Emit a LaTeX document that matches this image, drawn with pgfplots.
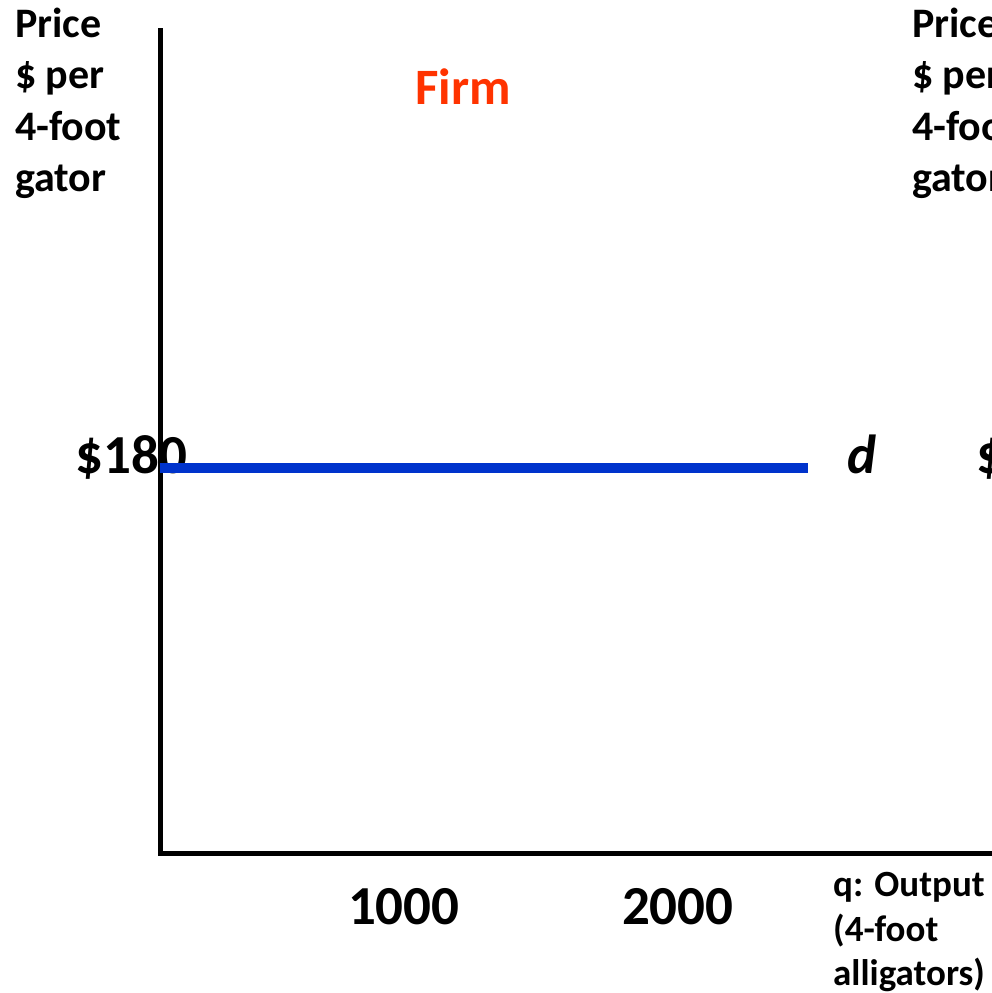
\documentclass[border=0pt]{standalone}
\usepackage{pgfplots}
\pgfplotsset{compat=1.18}
\usepackage{fontspec}
\setmainfont{Carlito}
\definecolor{dblue}{RGB}{0,51,204}
\definecolor{firmred}{RGB}{255,51,0}
\newcommand{\fs}[2]{\fontsize{#1}{#2}\selectfont\bfseries}
\begin{document}
\begin{tikzpicture}[x=1pt,y=1pt]
\clip (0,0) rectangle (992,-993);
\begin{axis}[
  at={(160pt,-853pt)}, anchor=south west,
  scale only axis, width=840pt, height=823pt,
  xmin=110, xmax=3176, ymin=0, ymax=385,
  axis x line=bottom, axis y line=left,
  axis line style={line width=5pt, line cap=rect, -},
  xtick={1000,2000}, xticklabels={1000,2000},
  ytick={180}, yticklabels={\$180},
  major tick length=0pt,
  xticklabel style={font=\fs{55}{60}, anchor=base, yshift=-71pt},
  yticklabel style={font=\fs{55}{60}, anchor=base east, xshift=31pt, yshift=-5pt},
  clip=false,
]
\addplot[dblue, line width=9.5pt] coordinates {(110,180) (2475,180)};
\end{axis}
% left axis title
\node[font=\fs{42}{50}, anchor=base west, inner sep=0] at (15,-37) {Price};
\node[font=\fs{42}{50}, anchor=base west, inner sep=0] at (15,-88.5) {\$ per};
\node[font=\fs{42}{50}, anchor=base west, inner sep=0] at (15,-140) {4-foot};
\node[font=\fs{42}{50}, anchor=base west, inner sep=0] at (15,-191.5) {gator};
% right panel (cut off)
\node[font=\fs{42}{50}, anchor=base west, inner sep=0] at (912,-37) {Price};
\node[font=\fs{42}{50}, anchor=base west, inner sep=0] at (912,-88.5) {\$ per};
\node[font=\fs{42}{50}, anchor=base west, inner sep=0] at (912,-140) {4-foot};
\node[font=\fs{42}{50}, anchor=base west, inner sep=0] at (912,-191.5) {gator};
\node[font=\fs{55}{60}, anchor=base west, inner sep=0] at (976,-473) {\$180};
% titles
\node[font=\fs{51}{60}, text=firmred, anchor=base, inner sep=0] at (463,-104) {Firm};
\node[font=\fs{55}{60}\itshape, anchor=base, inner sep=0] at (862,-473) {d};
\node[font=\fs{37}{40}, anchor=base west, inner sep=0] at (833,-896) {q: Output};
\node[font=\fs{37}{40}, anchor=base west, inner sep=0] at (833,-941) {(4-foot};
\node[font=\fs{37}{40}, anchor=base west, inner sep=0] at (833,-985) {alligators)};
\end{tikzpicture}
\end{document}
